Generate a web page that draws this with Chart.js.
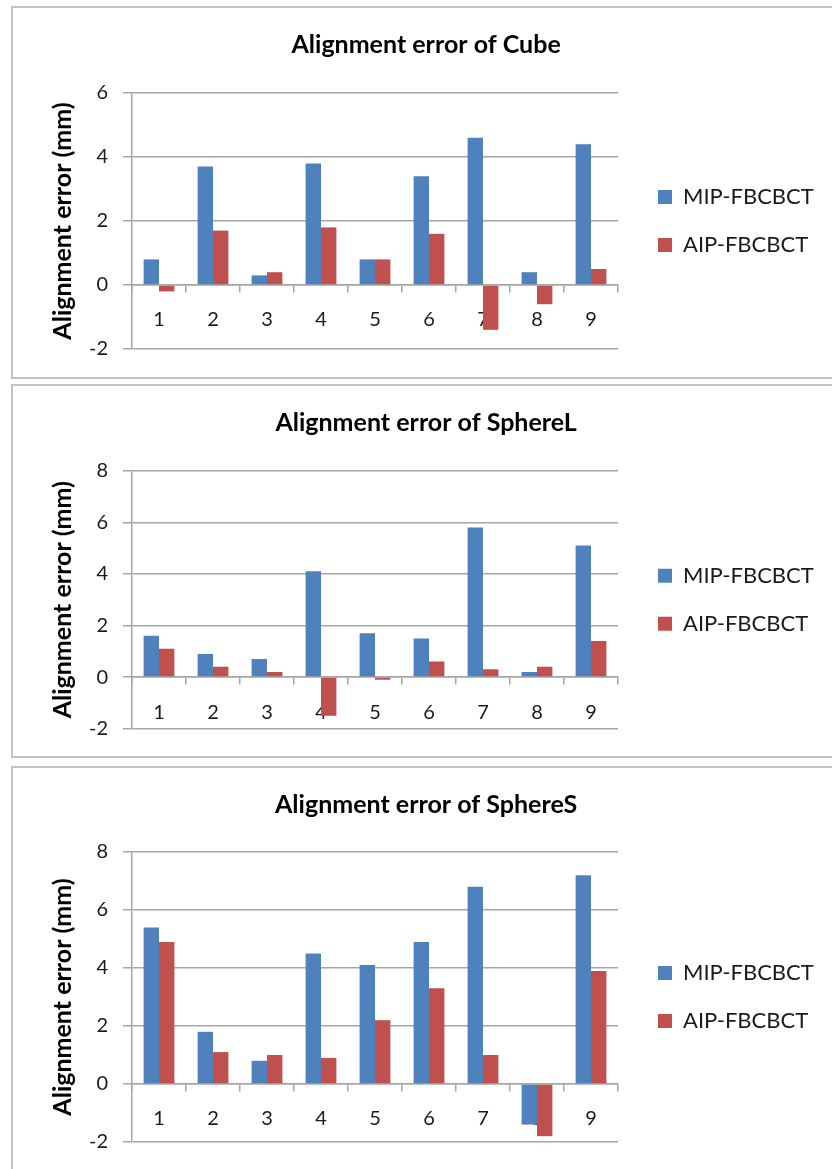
<!DOCTYPE html>
<html lang="en">
<head>
<meta charset="UTF-8">
<title>Alignment error</title>
<script src="https://cdn.jsdelivr.net/npm/chart.js"></script>
<style>
  body { margin: 0; background: #fff; width: 832px; height: 1169px; overflow: hidden; position: relative; }
  .panel { position: absolute; left: 11px; width: 840px; border: 2px solid #c3c3c3; background: #fff; }
  .panel canvas { position: absolute; left: 0; top: 0; }
</style>
</head>
<body>
<div class="panel" style="top:6px;height:369px"><canvas id="cube" width="840" height="369"></canvas></div>
<div class="panel" style="top:384px;height:370px"><canvas id="sphereL" width="840" height="370"></canvas></div>
<div class="panel" style="top:766px;height:420px"><canvas id="sphereS" width="840" height="401"></canvas></div>

<script>
// values
const categories = ['1', '2', '3', '4', '5', '6', '7', '8', '9'];
const seriesNames = ['MIP-FBCBCT', 'AIP-FBCBCT'];

const cubeMip = [0.8, 3.7, 0.3, 3.8, 0.8, 3.4, 4.6, 0.4, 4.4];
const cubeAip = [-0.2, 1.7, 0.4, 1.8, 0.8, 1.6, -1.4, -0.6, 0.5];

const sphereLMip = [1.6, 0.9, 0.7, 4.1, 1.7, 1.5, 5.8, 0.2, 5.1];
const sphereLAip = [1.1, 0.4, 0.2, -1.5, -0.1, 0.6, 0.3, 0.4, 1.4];

const sphereSMip = [5.4, 1.8, 0.8, 4.5, 4.1, 4.9, 6.8, -1.4, 7.2];
const sphereSAip = [4.9, 1.1, 1.0, 0.9, 2.2, 3.3, 1.0, -1.8, 3.9];

const cubeRange = [-2, 6];
const sphereLRange = [-2, 8];
const sphereSRange = [-2, 8];

const yTitle = 'Alignment error (mm)';
const colors = ['#4F81BD', '#C0504D'];

Chart.defaults.font.family = 'Lato, sans-serif';
Chart.defaults.animation = false;

const gridColor = '#a6a6a6';
const textColor = '#1a1a1a';
const titleSize = 25;
const yTitleSize = 25;
const legendSize = 22;

// legend text width, used to keep the plot's right edge in place
const meas = document.createElement('canvas').getContext('2d');
meas.font = legendSize + 'px Lato';
const legendTextW = Math.max(...seriesNames.map(n => meas.measureText(n).width));

function makeChart(id, title, mip, aip, range, plotTop, padBottom) {
    const W = 840, padLeft = 15.5, plotLeft = 119, plotRight = 604, gap = 14, legPad = 26;
    // legend box = padding + swatch + half-font gap + text, plus chart.js' own 10px margin
    const legendW = legPad + 14 + legendSize / 2 + legendTextW + 11;
    const padRight = W - plotRight - gap - legendW;
    const titleCenter = 37;

    new Chart(document.getElementById(id), {
        type: 'bar',
        data: {
            labels: categories,
            datasets: [
                { label: seriesNames[0], data: mip, backgroundColor: colors[0], borderWidth: 0 },
                { label: seriesNames[1], data: aip, backgroundColor: colors[1], borderWidth: 0 }
            ]
        },
        options: {
            responsive: false,
            categoryPercentage: 0.57,
            barPercentage: 1.0,
            layout: { padding: { left: padLeft, top: 0, right: padRight, bottom: padBottom } },
            plugins: {
                tooltip: { enabled: false },
                title: {
                    display: true,
                    text: title,
                    color: '#000',
                    font: { size: titleSize, weight: 'bold' },
                    padding: {
                        top: titleCenter - titleSize * 0.6,
                        bottom: plotTop - titleCenter - titleSize * 0.6
                    }
                },
                legend: {
                    position: 'right',
                    align: 'center',
                    fullSize: false,
                    labels: {
                        color: textColor,
                        font: { size: legendSize },
                        boxWidth: 14,
                        boxHeight: 14,
                        padding: legPad
                    }
                }
            },
            scales: {
                x: {
                    type: 'category',
                    position: { y: 0 },
                    offset: true,
                    grid: {
                        display: true,
                        drawOnChartArea: false,
                        drawTicks: true,
                        tickLength: 7,
                        offset: true,
                        color: gridColor,
                        lineWidth: 1.5
                    },
                    border: { display: true, color: gridColor, width: 1.5 },
                    ticks: {
                        color: textColor,
                        font: { size: 20 },
                        padding: 16,
                        autoSkip: false,
                        maxRotation: 0
                    }
                },
                y: {
                    min: range[0],
                    max: range[1],
                    grid: { color: gridColor, lineWidth: 1.5, tickLength: 9 },
                    border: { display: true, color: gridColor, width: 1.5 },
                    ticks: {
                        stepSize: 2,
                        color: textColor,
                        font: { size: 20 },
                        padding: 15
                    },
                    title: {
                        display: true,
                        text: yTitle,
                        color: '#000',
                        font: { size: yTitleSize, weight: 'bold' },
                        padding: { top: 50 - padLeft - yTitleSize * 0.6, bottom: 0 }
                    },
                    afterFit: s => { s.width = plotLeft - padLeft; }
                },
                // hidden strip between the plot and the legend
                gap: {
                    type: 'linear',
                    position: 'right',
                    display: false,
                    afterFit: s => { s.width = gap; }
                }
            }
        }
    });
}

makeChart('cube', 'Alignment error of Cube', cubeMip, cubeAip, cubeRange, 85, 28);
makeChart('sphereL', 'Alignment error of SphereL', sphereLMip, sphereLAip, sphereLRange, 84.7, 27.3);
makeChart('sphereS', 'Alignment error of SphereS', sphereSMip, sphereSAip, sphereSRange, 84, 26.7);
</script>
</body>
</html>
